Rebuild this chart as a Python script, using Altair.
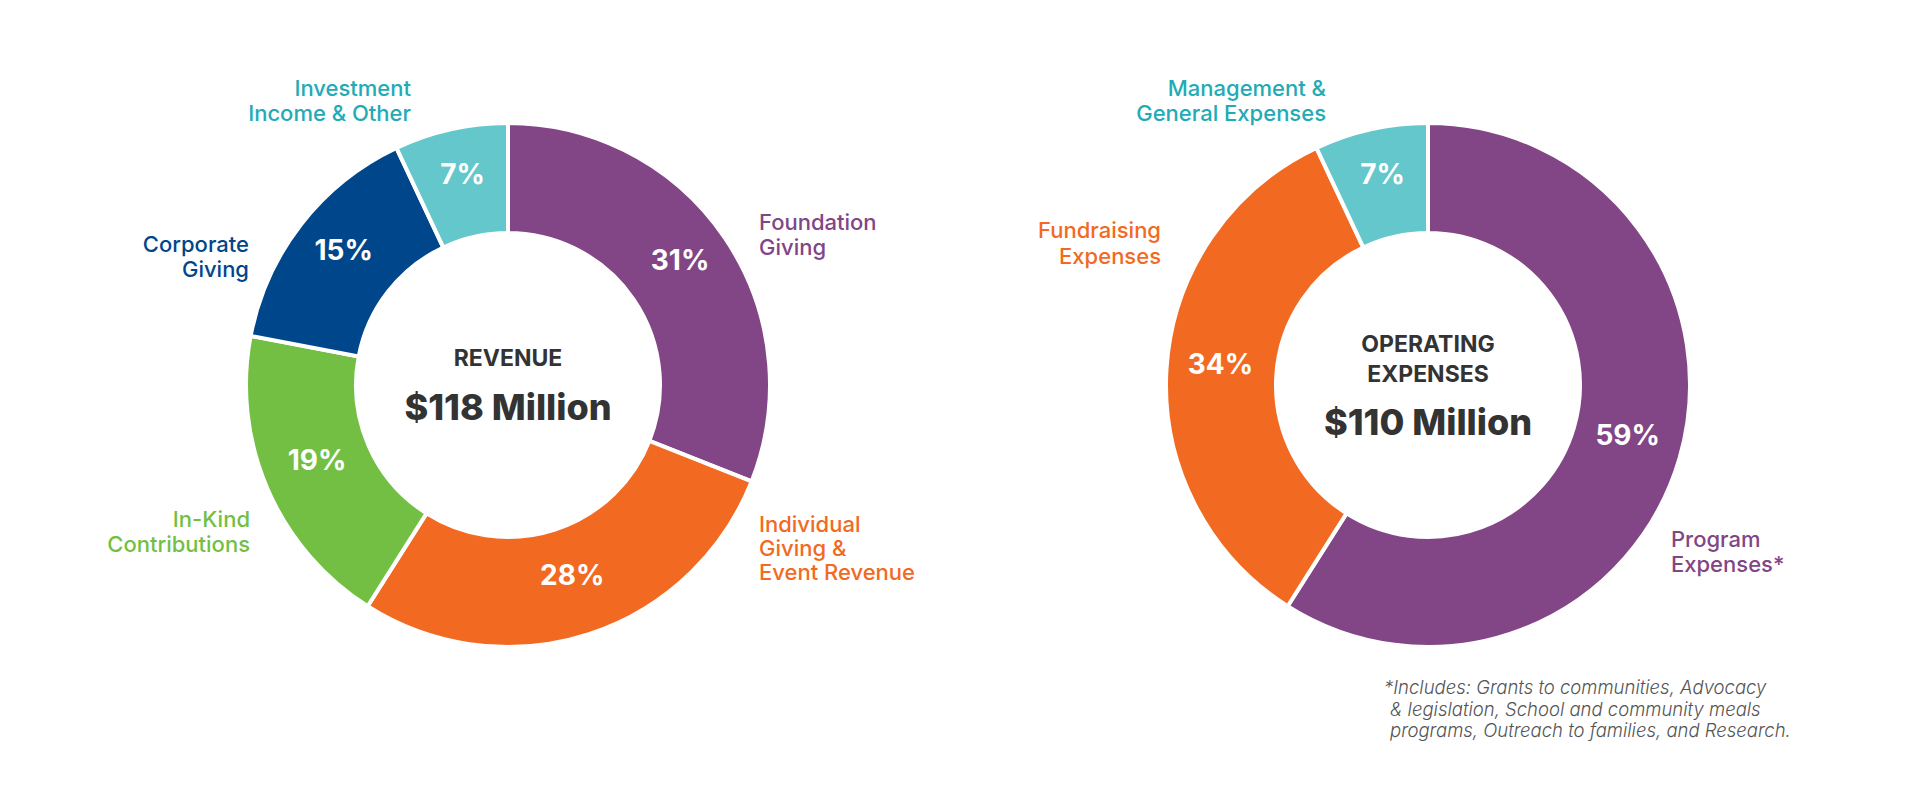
import altair as alt
import pandas as pd

# ---- data ----
rev_categories = ["Foundation Giving", "Individual Giving & Event Revenue",
                  "In-Kind Contributions", "Corporate Giving", "Investment Income & Other"]
rev_values = [31, 28, 19, 15, 7]
rev_colors = ["#824585", "#F26A21", "#72BF44", "#00468B", "#63C7CB"]

exp_categories = ["Program Expenses*", "Fundraising Expenses", "Management & General Expenses"]
exp_values = [59, 34, 7]
exp_colors = ["#824585", "#F26A21", "#63C7CB"]

FONT = "Inter"
DARK = "#333333"


def frame(cats, vals, cols):
    return pd.DataFrame({
        "category": cats,
        "value": vals,
        "color": cols,
        "idx": list(range(len(cats))),
        "pct": [f"{v}%" for v in vals],
    })


def donut(df, cx, cy):
    base = alt.Chart(df).encode(
        theta=alt.Theta("value:Q", stack=True),
        order=alt.Order("idx:Q"),
        x=alt.value(cx),
        y=alt.value(cy),
    )
    arcs = base.mark_arc(outerRadius=262, innerRadius=152, stroke="white",
                         strokeWidth=4).encode(color=alt.Color("color:N", scale=None))
    pct = base.mark_text(radius=208, dy=-6, font=FONT, fontSize=28, fontWeight=700,
                         color="white").encode(text="pct:N")
    return [arcs, pct]


dummy = pd.DataFrame({"a": [0]})


def label(lines, x, y, color, align, size=22, weight=500, lh=25, style="normal"):
    return alt.Chart(dummy).mark_text(
        text=lines, align=align, baseline="middle", font=FONT, fontSize=size,
        fontWeight=weight, lineHeight=lh, color=color, fontStyle=style,
    ).encode(x=alt.value(x), y=alt.value(y))


rev = frame(rev_categories, rev_values, rev_colors)
exp = frame(exp_categories, exp_values, exp_colors)

layers = []
layers += donut(rev, 508, 385)
layers += donut(exp, 1428, 385)

# category labels (y = first line)
layers += [
    label(["Investment", "Income & Other"], 411, 89, "#22ABB5", "right"),
    label(["Corporate", "Giving"], 249, 245, "#00468B", "right"),
    label(["Foundation", "Giving"], 759, 223, "#824585", "left"),
    label(["In-Kind", "Contributions"], 250, 520, "#72BF44", "right"),
    label(["Individual", "Giving &", "Event Revenue"], 759, 525, "#F26A21", "left", lh=24),
    label(["Management &", "General Expenses"], 1326, 89, "#22ABB5", "right"),
    label(["Fundraising", "Expenses"], 1161, 231, "#F26A21", "right", lh=26),
    label(["Program", "Expenses*"], 1671, 540, "#824585", "left"),
]

# centre titles
layers += [
    label(["REVENUE"], 508, 359, DARK, "center", size=23, weight=700),
    label(["$118 Million"], 508, 409, DARK, "center", size=36, weight=800),
    label(["OPERATING", "EXPENSES"], 1428, 345, DARK, "center", size=23, weight=700, lh=30),
    label(["$110 Million"], 1428, 424, DARK, "center", size=36, weight=800),
]

# footnote
layers += [
    label(["*Includes: Grants to communities, Advocacy"],
          1384, 688, "#555555", "left", size=18.5, weight=300, lh=21.5, style="italic"),
    label(["& legislation, School and community meals",
           "programs, Outreach to families, and Research."],
          1390, 709.5, "#555555", "left", size=18.5, weight=300, lh=21.5, style="italic"),
]

chart = alt.layer(*layers).properties(
    width=1920, height=790, padding=0, autosize="none", background="white"
).configure_view(stroke=None)

chart.save("out.html", embed_options={"renderer": "svg", "actions": False})
